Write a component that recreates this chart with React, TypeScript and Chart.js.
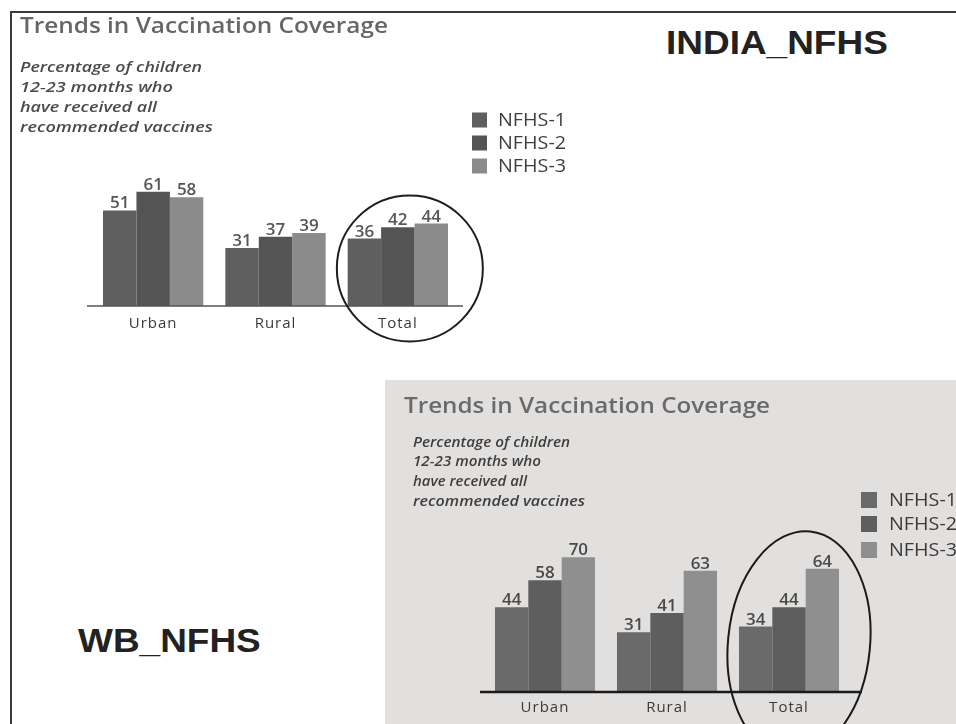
import React, { useEffect, useRef } from 'react';
import { Chart, registerables } from 'chart.js';

Chart.register(...registerables);

// ---------- data ----------
const categories = ['Urban', 'Rural', 'Total'];
const seriesNames = ['NFHS-1', 'NFHS-2', 'NFHS-3'];
const indiaNfhs1 = [51, 31, 36];
const indiaNfhs2 = [61, 37, 42];
const indiaNfhs3 = [58, 39, 44];
const wbNfhs1 = [44, 31, 34];
const wbNfhs2 = [58, 41, 44];
const wbNfhs3 = [70, 63, 64];
const chartTitle = 'Trends in Vaccination Coverage';
const subtitleLines = ['Percentage of children', '12-23 months who', 'have received all', 'recommended vaccines'];
const indiaLabel = 'INDIA_NFHS';
const wbLabel = 'WB_NFHS';
const yMax = 80;

// ---------- styles ----------
const indiaColors = ['#5f5f5f', '#545454', '#8b8b8b'];
const wbColors = ['#6a6a6a', '#5e5e5e', '#8f8f8f'];

const indiaStyle = {
  title: { x: 20, y: 33, width: 368, font: '600 22px "Open Sans"', color: '#666666' },
  subtitle: { x: 20, ys: [72, 92, 112, 132], widths: [182, 153, 137, 193], font: 'italic 600 15px "Open Sans"', color: '#4a4a4a' },
  legend: { boxX: 472, textX: 498, ys: [120, 143, 166], box: 15, font: '18px "Open Sans"', color: '#3e3e3e', textWidth: 68 },
  values: { font: '600 17px "Open Sans"', color: '#555555', gap: 2 },
  cats: { font: '15px "Open Sans"', color: '#3a3a3a', offset: 22, spacing: '1px' },
  axis: { color: '#555555', width: 1.5, extL: 5, extR: 4 },
  circle: { index: 2, dx: 12, value: 20, rx: 73, ry: 73, rot: 0, color: '#1e1e1e', width: 2 },
};

const wbStyle = {
  title: { x: 19, y: 33, width: 366, font: '600 22px "Open Sans"', color: '#6a6a6a' },
  subtitle: { x: 28, ys: [67, 86, 106, 126], widths: [157, 128, 114, 172], font: 'italic 600 15px "Open Sans"', color: '#3e3e3e' },
  legend: { boxX: 476, textX: 504, ys: [120, 144, 170], box: 16, font: '18px "Open Sans"', color: '#3a3a3a', textWidth: 68 },
  values: { font: '600 17px "Open Sans"', color: '#4a4a4a', gap: 2 },
  cats: { font: '15px "Open Sans"', color: '#3a3a3a', offset: 20, spacing: '1px' },
  axis: { color: '#1a1a1a', width: 2.5, extL: 4, extR: 12 },
  circle: { index: 2, dx: 10, value: 25, rx: 71, ry: 113, rot: 0.1, color: '#1a1a1a', width: 2 },
};

function fitText(ctx: CanvasRenderingContext2D, text: string, x: number, y: number, width?: number) {
  const w = ctx.measureText(text).width;
  const s = width ? width / w : 1;
  ctx.save();
  ctx.translate(x, y);
  ctx.scale(s, 1);
  ctx.fillText(text, 0, 0);
  ctx.restore();
}

const overlayPlugin = {
  id: 'overlay',
  afterDatasetsDraw(chart: any, _args: any, o: any) {
    const ctx: CanvasRenderingContext2D = chart.ctx;
    const xs = chart.scales.x;
    const ys = chart.scales.y;
    const area = chart.chartArea;
    const by = ys.getPixelForValue(0);
    ctx.save();

    // axis baseline
    ctx.strokeStyle = o.axis.color;
    ctx.lineWidth = o.axis.width;
    ctx.beginPath();
    ctx.moveTo(area.left - o.axis.extL, by);
    ctx.lineTo(area.right + o.axis.extR, by);
    ctx.stroke();

    // category labels
    ctx.font = o.cats.font;
    ctx.fillStyle = o.cats.color;
    ctx.textAlign = 'center';
    ctx.textBaseline = 'alphabetic';
    (ctx as any).letterSpacing = o.cats.spacing;
    chart.data.labels.forEach((l: string, i: number) => {
      ctx.fillText(l, xs.getPixelForValue(i), by + o.cats.offset);
    });
    (ctx as any).letterSpacing = '0px';

    // value labels
    ctx.font = o.values.font;
    ctx.fillStyle = o.values.color;
    chart.data.datasets.forEach((ds: any, di: number) => {
      const meta = chart.getDatasetMeta(di);
      meta.data.forEach((bar: any, i: number) => {
        ctx.fillText(String(ds.data[i]), bar.x, bar.y - o.values.gap);
      });
    });

    // title + subtitle
    ctx.textAlign = 'left';
    ctx.font = o.title.font;
    ctx.fillStyle = o.title.color;
    fitText(ctx, chartTitle, o.title.x, o.title.y, o.title.width);
    ctx.font = o.subtitle.font;
    ctx.fillStyle = o.subtitle.color;
    subtitleLines.forEach((line, i) => {
      fitText(ctx, line, o.subtitle.x, o.subtitle.ys[i], o.subtitle.widths[i]);
    });

    // legend
    ctx.font = o.legend.font;
    ctx.textBaseline = 'middle';
    chart.data.datasets.forEach((ds: any, di: number) => {
      const cy = o.legend.ys[di];
      ctx.fillStyle = ds.backgroundColor;
      ctx.fillRect(o.legend.boxX, cy - o.legend.box / 2, o.legend.box, o.legend.box);
      ctx.fillStyle = o.legend.color;
      fitText(ctx, ds.label, o.legend.textX, cy + 1, o.legend.textWidth);
    });

    // circle highlight
    const c = o.circle;
    const cx = xs.getPixelForValue(c.index) + c.dx;
    const cy = ys.getPixelForValue(c.value);
    ctx.strokeStyle = c.color;
    ctx.lineWidth = c.width;
    ctx.beginPath();
    ctx.ellipse(cx, cy, c.rx, c.ry, c.rot, 0, Math.PI * 2);
    ctx.stroke();

    ctx.restore();
  },
};

function makeConfig(values: number[][], colors: string[], padding: any, style: any): any {
  return {
    type: 'bar',
    data: {
      labels: categories,
      datasets: seriesNames.map((name, i) => ({
        label: name,
        data: values[i],
        backgroundColor: colors[i],
        borderWidth: 0,
        categoryPercentage: 0.82,
        barPercentage: 1,
      })),
    },
    options: {
      responsive: false,
      animation: false,
      layout: { padding },
      scales: {
        x: { display: false },
        y: { display: false, min: 0, max: yMax },
      },
      plugins: {
        legend: { display: false },
        tooltip: { enabled: false },
        overlay: style,
      },
    },
    plugins: [overlayPlugin],
  };
}

export default function App() {
  const ref1 = useRef<HTMLCanvasElement>(null);
  const ref2 = useRef<HTMLCanvasElement>(null);

  useEffect(() => {
    const c1 = new Chart(
      ref1.current as HTMLCanvasElement,
      makeConfig([indiaNfhs1, indiaNfhs2, indiaNfhs3], indiaColors, { left: 92, right: 141, top: 156, bottom: 44 }, indiaStyle)
    );
    const c2 = new Chart(
      ref2.current as HTMLCanvasElement,
      makeConfig([wbNfhs1, wbNfhs2, wbNfhs3], wbColors, { left: 99, right: 106, top: 158, bottom: 32 }, wbStyle)
    );
    return () => {
      c1.destroy();
      c2.destroy();
    };
  }, []);

  const bigLabel: React.CSSProperties = {
    position: 'absolute',
    fontFamily: '"Liberation Sans", Arial, sans-serif',
    fontWeight: 700,
    fontSize: 33,
    lineHeight: '33px',
    color: '#222',
    whiteSpace: 'nowrap',
    transformOrigin: 'left top',
    transform: 'scaleX(1.12)',
  };

  return (
    <div style={{ position: 'fixed', left: 0, top: 0, width: 956, height: 724, background: '#fff', overflow: 'hidden' }}>
      <div style={{ position: 'absolute', left: 10, top: 11, width: 960, height: 730, borderLeft: '2px solid #3a3a3a', borderTop: '2px solid #3a3a3a' }} />
      <canvas ref={ref1} width={600} height={350} style={{ position: 'absolute', left: 0, top: 0 }} />
      <div style={{ ...bigLabel, left: 666, top: 26 }}>{indiaLabel}</div>
      <div style={{ ...bigLabel, left: 78, top: 624 }}>{wbLabel}</div>
      <canvas ref={ref2} width={571} height={344} style={{ position: 'absolute', left: 385, top: 380, background: '#e2e0df' }} />
    </div>
  );
}
